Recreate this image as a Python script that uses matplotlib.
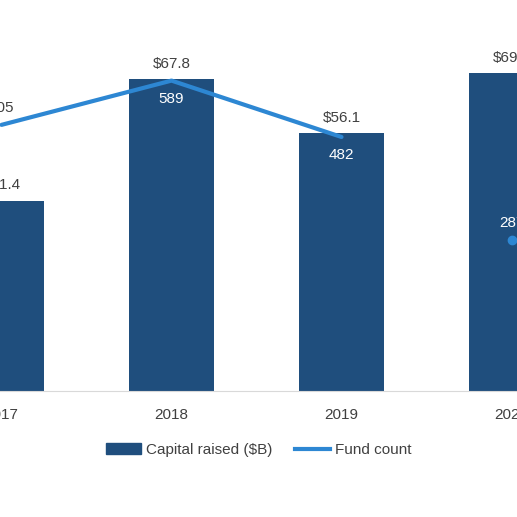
import numpy as np
import matplotlib.pyplot as plt
from matplotlib.lines import Line2D
from matplotlib.patches import Patch

plt.rcParams['font.family'] = ['Liberation Sans', 'DejaVu Sans']

# Данные
years = ['2017', '2018', '2019', '2020']
capital = [41.4, 67.8, 56.1, 69.1]
capital_labels = ['$41.4', '$67.8', '$56.1', '$69.1']
funds = [505, 589, 482, 287]

bar_color = '#1F4E7D'
line_color = '#2D87D3'
text_color = '#404040'

fig = plt.figure(figsize=(5.17, 5.17), dpi=100)
W, H = 517, 517
base_px = 391
ax = fig.add_axes([0, (H - base_px) / H, 1, base_px / H])
ax2 = ax.twinx()

x = np.arange(len(years))
ax.bar(x, capital, width=0.5, color=bar_color, zorder=2)
for xi, v, lab in zip(x, capital, capital_labels):
    ax.text(xi, v + 1.8, lab, ha='center', va='bottom', fontsize=11, color=text_color)

# линия: 2017-2019, 2020 отдельной точкой
ax2.plot(x[:3], funds[:3], color=line_color, lw=3, solid_capstyle='round', zorder=3)
ax2.plot(x[3], funds[3], 'o', color=line_color, ms=6, zorder=3)
label_pos = [(505, 32, text_color), (589, -34, 'white'), (482, -34, 'white'), (287, 32, 'white')]
for xi, (v, dy, c) in zip(x, label_pos):
    ax2.text(xi, v + dy, str(v), ha='center', va='center', fontsize=11, color=c)

# шкалы
xoff = 1.5 / 170
ax.set_xlim(-xoff, (W - 1.5) / 170)
ax.set_ylim(0, base_px / 4.6)
ax2.set_ylim(0, base_px / 0.527)
for a in (ax, ax2):
    a.set_yticks([])
    for s in ('top', 'left', 'right'):
        a.spines[s].set_visible(False)
ax2.spines['bottom'].set_visible(False)
ax.spines['bottom'].set_color('#D9D9D9')
ax.set_xticks(x)
ax.set_xticklabels(years, fontsize=11, color=text_color)
ax.tick_params(axis='x', length=0, pad=12)
ax.set_zorder(1)
ax2.set_zorder(2)
ax.patch.set_visible(False)

handles = [Patch(color=bar_color), Line2D([0], [0], color=line_color, lw=3)]
fig.legend(handles, ['Capital raised ($B)', 'Fund count'], loc='center',
           bbox_to_anchor=(0.5, 1 - 450 / H), ncol=2, frameon=False,
           fontsize=11, labelcolor=text_color, handlelength=2.3,
           handletextpad=0.3, columnspacing=1.5)

fig.savefig('out.png', dpi=100)
